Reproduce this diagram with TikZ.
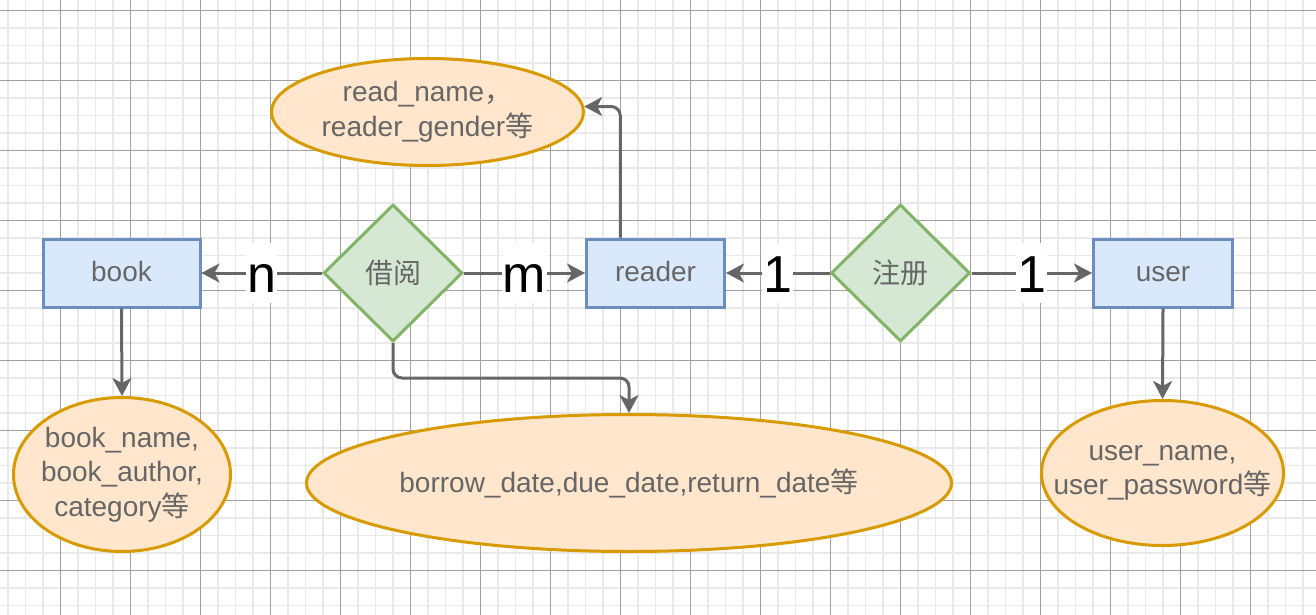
\documentclass[tikz,border=0pt]{standalone}
\usepackage{fontspec}
\setmainfont{Liberation Sans}
\newfontfamily\cjk{Noto Sans CJK SC}
\usetikzlibrary{shapes.geometric,arrows.meta,calc}
\definecolor{entF}{HTML}{DAE8FC}
\definecolor{entB}{HTML}{6C8EBF}
\definecolor{relF}{HTML}{D5E8D4}
\definecolor{relB}{HTML}{82B366}
\definecolor{atF}{HTML}{FFE6CC}
\definecolor{atB}{HTML}{D79B00}
\definecolor{txtc}{HTML}{666666}
\definecolor{lnc}{HTML}{666666}
\definecolor{gminor}{HTML}{E9E9E9}
\definecolor{gmajor}{HTML}{A0A0A0}
\newcommand{\txtfont}{\fontsize{28}{34.5}\selectfont}
\newcommand{\lblfont}{\fontsize{52}{60}\selectfont}
\begin{document}
\begin{tikzpicture}[x=1pt,y=-1pt,
  minorline/.style={draw=gminor, line width=1.6pt},
  majorline/.style={draw=gmajor, line width=1pt},
  ent/.style={draw=entB, fill=entF, line width=3pt, minimum height=68pt, inner sep=0pt, text height=21pt, text depth=3.6pt, font=\txtfont, text=txtc},
  rel/.style={diamond, draw=relB, fill=relF, line width=3pt, minimum width=139pt, minimum height=137pt, inner sep=0pt, font=\txtfont\cjk, text=txtc},
  attr/.style={ellipse, draw=atB, fill=atF, line width=3pt, inner sep=-30pt, align=center, font=\txtfont, text=txtc},
  arr/.style={draw=lnc, line width=3pt, -{Stealth[length=18pt,width=19pt,inset=5pt]}},
  lbl/.style={fill=white, font=\lblfont, text=black, inner xsep=1pt, inner ysep=0pt, text height=49.5pt, text depth=10.5pt}
]
\useasboundingbox (0,0) rectangle (1316,615);
\fill[white] (0,0) rectangle (1316,615);
% grid
\foreach \i in {0,...,75} {\draw[minorline] ({8+17.5*\i},0) -- ++(0,615);}
\foreach \j in {0,...,35} {\draw[minorline] (0,{-7+17.5*\j}) -- ++(1316,0);}
\foreach \i in {0,...,18} {\draw[majorline] ({-9.5+70*\i},0) -- ++(0,615);}
\foreach \j in {0,...,8} {\draw[majorline] (0,{10.5+70*\j}) -- ++(1316,0);}

% entities
\node[ent, minimum width=157pt] (book) at (121.5,273) {book};
\node[ent, minimum width=138pt] (reader) at (655.5,273) {reader};
\node[ent, minimum width=139pt] (user) at (1163,273) {user};
% relationships
\node[rel] (jy) at (393,273) {借阅};
\node[rel] (zc) at (900.5,273) {注册};
% attributes
\node[attr, minimum width=312pt, minimum height=107pt] (rn) at (427.5,112) {read\_name{\cjk ，}\\reader\_gender{\cjk 等}};
\node[attr, minimum width=217pt, minimum height=154pt] (bn) at (122,474.5) {book\_name,\\book\_author,\\category{\cjk 等}};
\node[attr, minimum width=645pt, minimum height=137pt] (bd) at (629,483) {borrow\_date,due\_date,return\_date{\cjk 等}};
\node[attr, minimum width=242pt, minimum height=145pt] (un) at (1162.5,473) {user\_name,\\user\_password{\cjk 等}};

% connectors
\draw[arr] (jy.west) -- node[lbl] {n} (book.east);
\draw[arr] (jy.east) -- node[lbl] {m} (reader.west);
\draw[arr] (zc.west) -- node[lbl] {1} (reader.east);
\draw[arr] (zc.east) -- node[lbl] {1} (user.west);
\coordinate (rs) at ($(reader.north west)!0.25!(reader.north east)$);
\draw[arr, rounded corners=9pt] (rs) |- (rn.2.6);
\draw[arr, rounded corners=9pt] (jy.south) |- (bd.north |- 0,378) -- (bd.north);
\draw[arr] (book.south) -- (bn.north);
\draw[arr] (user.south) -- (un.north);
\end{tikzpicture}
\end{document}
